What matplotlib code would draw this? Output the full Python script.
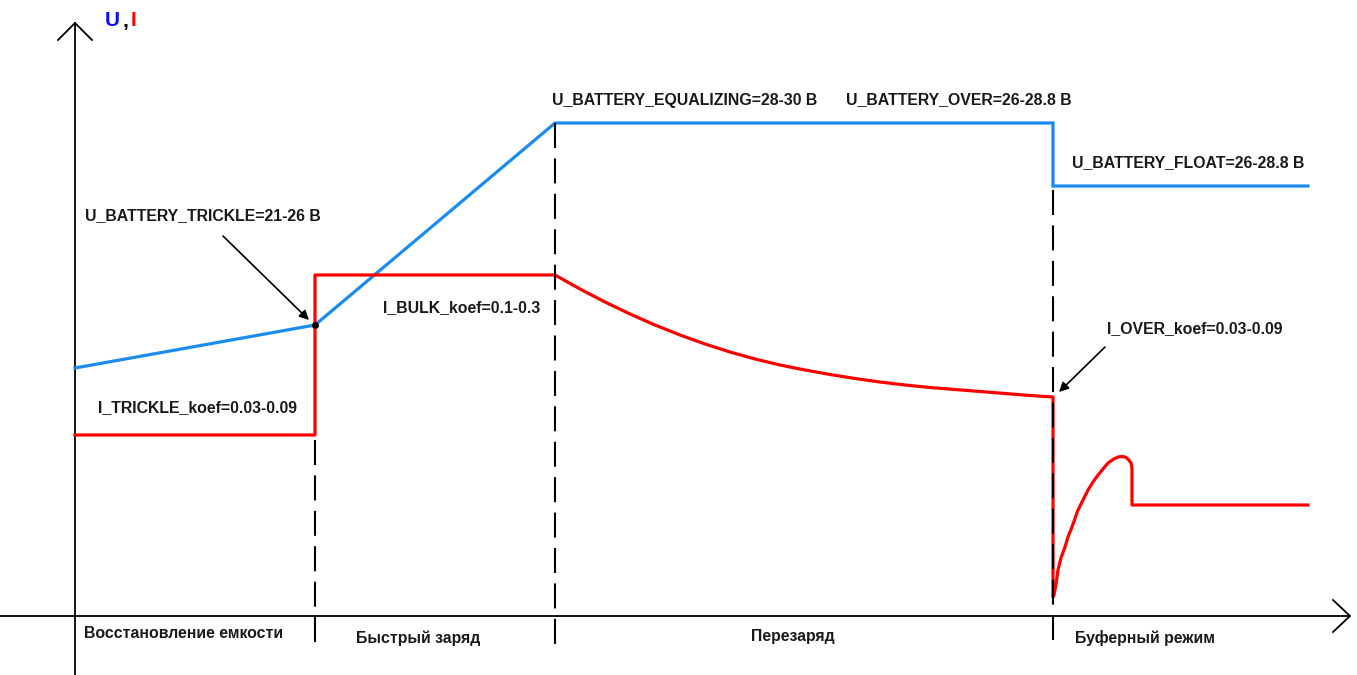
import numpy as np
import matplotlib.pyplot as plt

plt.rcParams['font.family'] = ['Liberation Sans', 'DejaVu Sans']

# coordinates (x to the right, y downwards, in pixels)
u_x = [75, 315, 555, 1053, 1053, 1308]
u_y = [368, 325, 123, 123, 186, 186]

# current: trickle step, bulk plateau, decay in overcharge, dip and recovery in float
i_x = [75, 315, 315, 555,
       580, 605, 630, 655, 680, 705, 730, 755, 780, 805, 830, 855, 880, 905,
       930, 955, 980, 1005, 1030, 1053,
       1053, 1054, 1056, 1058, 1061, 1065, 1068, 1072, 1078, 1083, 1088, 1093,
       1098, 1103, 1108, 1113, 1118, 1122, 1125, 1128, 1131, 1132, 1132, 1308]
i_y = [435, 435, 275, 275,
       289, 302, 314, 325, 335, 344, 352, 359, 365, 370, 374.5, 378.5, 382, 385,
       387.5, 389.5, 391.5, 393.5, 395.5, 397,
       597, 595, 584, 570, 558, 547, 537, 527, 510, 500, 490, 482,
       475, 469, 463, 459.5, 457, 456.5, 457, 459, 463, 468, 505, 505]

stage_x = [315, 555, 1053]
stage_top = [440, 123, 190]
stage_names = ['Восстановление емкости', 'Быстрый заряд', 'Перезаряд', 'Буферный режим']
stage_label_x = [184, 418, 793, 1145]
stage_label_y = [633, 638, 636, 638]

labels = [
    ('U_BATTERY_TRICKLE=21-26 В', 85, 216),
    ('I_TRICKLE_koef=0.03-0.09', 98, 408),
    ('I_BULK_koef=0.1-0.3', 383, 308),
    ('U_BATTERY_EQUALIZING=28-30 В', 552, 100),
    ('U_BATTERY_OVER=26-28.8 В', 846, 100),
    ('U_BATTERY_FLOAT=26-28.8 В', 1072, 163),
    ('I_OVER_koef=0.03-0.09', 1107, 329),
]

fig = plt.figure(figsize=(13.57, 6.75), dpi=100)
ax = fig.add_axes([0, 0, 1, 1])
ax.set_xlim(0, 1357)
ax.set_ylim(675, 0)
ax.axis('off')

# axes with arrow heads
ax.plot([75, 75], [675, 23], color='black', lw=1.3)
ax.plot([58, 75, 92], [40, 23, 40], color='black', lw=1.3)
ax.plot([0, 1350], [616, 616], color='black', lw=1.3)
ax.plot([1333, 1350, 1333], [600, 616, 632], color='black', lw=1.3)

# voltage and current
ax.plot(u_x, u_y, color='#1a8cf0', lw=2.3, solid_joinstyle='miter', zorder=2)
ax.plot(i_x, i_y, color='#ff0000', lw=2.3, solid_joinstyle='round', zorder=2)

# stage separators
for sx, top in zip(stage_x, stage_top):
    ax.plot([sx, sx], [top, 646], color='black', lw=1.5, dashes=(12, 5), zorder=3)

ax.plot([315], [325], 'o', color='black', ms=4, zorder=4)

for txt, x, y in labels:
    ax.text(x, y, txt, fontsize=11.4, fontweight='bold', ha='left', va='center',
            color='#1a1a1a')

ax.annotate('', xy=(309, 320), xytext=(223, 236),
            arrowprops=dict(arrowstyle='-|>', color='black', lw=1.2,
                            mutation_scale=14, shrinkA=0, shrinkB=0))
ax.annotate('', xy=(1059, 392), xytext=(1105, 347),
            arrowprops=dict(arrowstyle='-|>', color='black', lw=1.2,
                            mutation_scale=14, shrinkA=0, shrinkB=0))

for name, lx, ly in zip(stage_names, stage_label_x, stage_label_y):
    ax.text(lx, ly, name, fontsize=11.4, fontweight='bold', ha='center',
            va='center', color='#1a1a1a')

# axis caption U, I
ax.text(105, 20, 'U', fontsize=15, fontweight='bold', color='#0a0aff', va='center')
ax.text(123, 22, ',', fontsize=15, fontweight='bold', color='black', va='center')
ax.text(131, 20, 'I', fontsize=15, fontweight='bold', color='#ff0000', va='center')

fig.savefig('out.png', dpi=100)
